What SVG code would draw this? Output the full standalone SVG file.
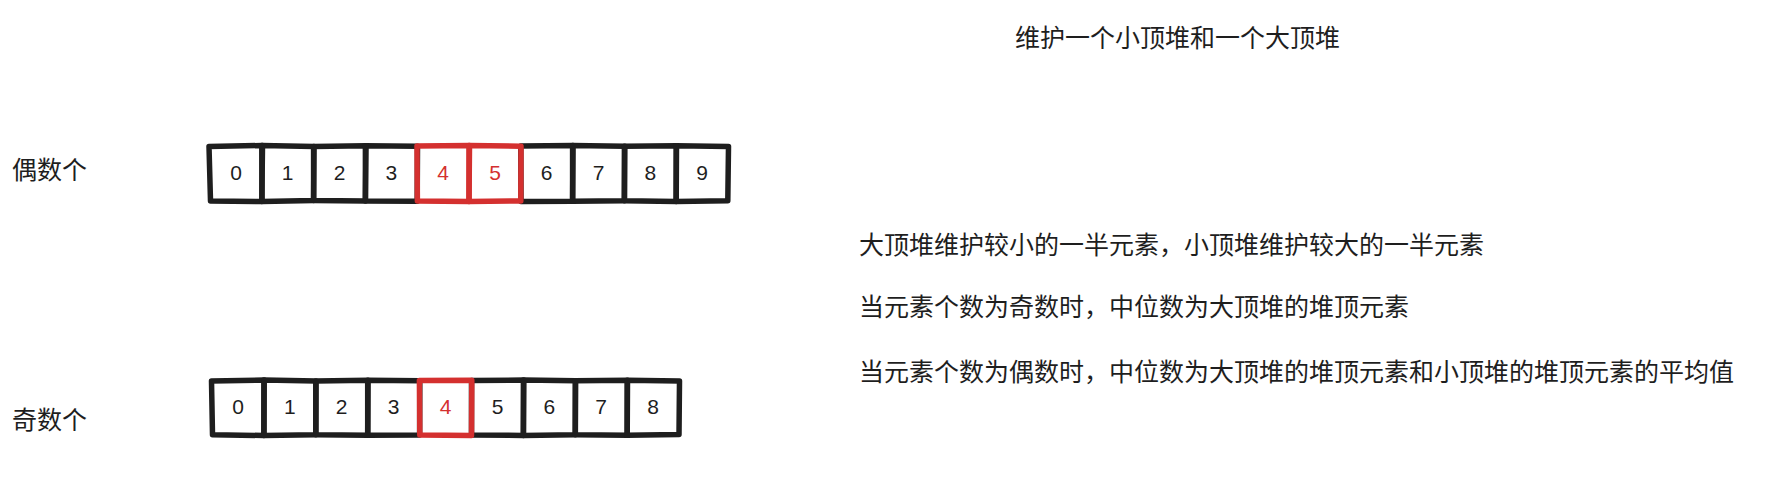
<svg xmlns="http://www.w3.org/2000/svg" width="1779" height="498" viewBox="0 0 1779 498">
<style>
.bg{fill:#ffffff}
.bx{fill:none;stroke:#1e1e1e;stroke-width:5.5;stroke-linecap:round;stroke-linejoin:round}
.bx.red{stroke:#d4302f}
.dg{font-family:"Liberation Sans","DejaVu Sans",sans-serif;font-size:21px;fill:#1e1e1e;text-anchor:middle}
.dg.red{fill:#d4302f}
.lb{font-family:"Noto Sans CJK SC","Noto Sans",sans-serif;font-size:25px;fill:#1e1e1e}
</style>
<rect class="bg" x="0" y="0" width="1779" height="498"/>
<g id="title"><text class="lb" x="1015" y="47">维护一个小顶堆和一个大顶堆</text></g>
<g id="label-even"><text class="lb" x="12" y="179">偶数个</text></g>
<g id="label-odd"><text class="lb" x="12" y="429">奇数个</text></g>
<g id="note1"><text class="lb" x="859" y="254">大顶堆维护较小的一半元素，小顶堆维护较大的一半元素</text></g>
<g id="note2"><text class="lb" x="859" y="316">当元素个数为奇数时，中位数为大顶堆的堆顶元素</text></g>
<g id="note3"><text class="lb" x="859" y="381">当元素个数为偶数时，中位数为大顶堆的堆顶元素和小顶堆的堆顶元素的平均值</text></g>
<g id="connectors"></g>
<g id="even-row">
<g id="e0"><path class="bx" d="M209,146.5 L262.5,145.5 L261.8,201.5 L210.5,201 Z"/><text class="dg" x="236" y="180">0</text></g>
<g id="e1"><path class="bx" d="M261.8,145.5 L314,146.5 L313.6,200.5 L262,201.5 Z"/><text class="dg" x="287.7" y="180">1</text></g>
<g id="e2"><path class="bx" d="M313.6,146.5 L366,145.8 L365.4,201 L313.6,200.5 Z"/><text class="dg" x="339.5" y="180">2</text></g>
<g id="e3"><path class="bx" d="M365.4,145.8 L417.5,146.2 L417.2,201.2 L365.4,201 Z"/><text class="dg" x="391.3" y="180">3</text></g>
<g id="e6"><path class="bx" d="M520.8,146 L573,145.5 L572.6,201.3 L521,201.5 Z"/><text class="dg" x="546.7" y="180">6</text></g>
<g id="e7"><path class="bx" d="M572.6,145.5 L624.8,146.3 L624.4,200.8 L572.6,201.3 Z"/><text class="dg" x="598.5" y="180">7</text></g>
<g id="e8"><path class="bx" d="M624.4,146.3 L676.5,145.8 L676.2,201.5 L624.4,200.8 Z"/><text class="dg" x="650.3" y="180">8</text></g>
<g id="e9"><path class="bx" d="M676.2,145.8 L728.5,146.5 L727.8,200.8 L676.2,201.5 Z"/><text class="dg" x="702" y="180">9</text></g>
<g id="e4"><path class="bx red" d="M417,146 L469.5,145.5 L469,201.5 L417.4,201 Z"/><text class="dg red" x="443" y="180">4</text></g>
<g id="e5"><path class="bx red" d="M469,145.5 L521,146.2 L520.8,201 L469,201.5 Z"/><text class="dg red" x="495" y="180">5</text></g>
</g>
<g id="odd-row">
<g id="o0"><path class="bx" d="M211.5,381 L264.2,380 L263.9,435.5 L212.5,434.8 Z"/><text class="dg" x="238" y="414">0</text></g>
<g id="o1"><path class="bx" d="M263.9,380 L316,381 L315.8,434.8 L263.9,435.5 Z"/><text class="dg" x="289.8" y="414">1</text></g>
<g id="o2"><path class="bx" d="M315.8,381 L368,380.3 L367.7,435.3 L315.8,434.8 Z"/><text class="dg" x="341.7" y="414">2</text></g>
<g id="o3"><path class="bx" d="M367.7,380.3 L419.8,380.8 L419.6,435 L367.7,435.3 Z"/><text class="dg" x="393.6" y="414">3</text></g>
<g id="o5"><path class="bx" d="M471.5,380.5 L523.8,380 L523.4,435.5 L471.5,435 Z"/><text class="dg" x="497.5" y="414">5</text></g>
<g id="o6"><path class="bx" d="M523.4,380 L575.6,380.8 L575.3,434.8 L523.4,435.5 Z"/><text class="dg" x="549.3" y="414">6</text></g>
<g id="o7"><path class="bx" d="M575.3,380.8 L627.5,380.2 L627.2,435.3 L575.3,434.8 Z"/><text class="dg" x="601.2" y="414">7</text></g>
<g id="o8"><path class="bx" d="M627.2,380.2 L679.5,381 L679,434.5 L627.2,435.3 Z"/><text class="dg" x="653.1" y="414">8</text></g>
<g id="o4"><path class="bx red" d="M419.4,380.5 L471.8,380.2 L471.5,435.5 L419.8,435 Z"/><text class="dg red" x="445.5" y="414">4</text></g>
</g>
</svg>
